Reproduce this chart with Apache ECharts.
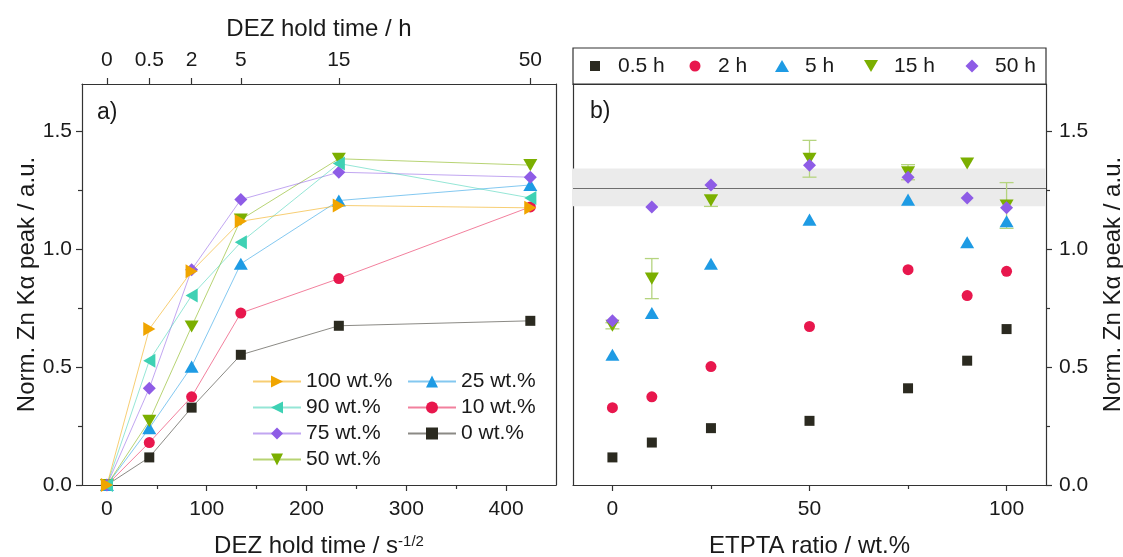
<!DOCTYPE html>
<html><head><meta charset="utf-8">
<script src="https://cdn.jsdelivr.net/npm/echarts@6/dist/echarts.min.js"></script>
<style>html,body{margin:0;padding:0;background:#fff}#c{width:1123px;height:557px}</style>
</head><body><div id="c"></div>
<script>
// ---- data ----
const holdHours = [0, 0.5, 2, 5, 15, 50];           // DEZ hold time / h
const ratios = [0, 10, 25, 50, 75, 90, 100];         // ETPTA ratio / wt.%
// Norm. Zn Kα peak per ETPTA ratio, at each hold time (holdHours)
const zn0   = [0, 0.117, 0.328, 0.552, 0.675, 0.696];
const zn10  = [0, 0.180, 0.374, 0.729, 0.875, 1.179];
const zn25  = [0, 0.241, 0.502, 0.938, 1.206, 1.272];
const zn50  = [0, 0.272, 0.672, 1.125, 1.383, 1.356];
const zn75  = [0, 0.410, 0.913, 1.210, 1.326, 1.305];
const zn90  = [0, 0.527, 0.803, 1.029, 1.363, 1.217];
const zn100 = [0, 0.661, 0.906, 1.118, 1.185, 1.175];
// error (half width) of the 15 h series in panel b, per ratio
const err15h = [0.013, 0.085, 0.025, 0.078, 0.032, null, 0.097];
// reference band in panel b
const bandLow = 1.182, bandMid = 1.261, bandHigh = 1.342;
// tick values
const xTicksA = [0, 100, 200, 300, 400];
const xMinorA = [50, 150, 250, 350];
const xTicksB = [0, 50, 100];
const xMinorB = [25, 75];
const yTicks = [0, 0.5, 1.0, 1.5];
const yMinor = [0.25, 0.75, 1.25];

// ---- styling ----
const FONT = 'Liberation Sans, Arial, sans-serif';
const AX = '#333333';
const TXT = '#1a1a1a';
const SYM = {
  square: 'rect', circle: 'circle', diamond: 'diamond',
  up: 'path://M5,0L10,8.66L0,8.66Z',
  down: 'path://M0,0L10,0L5,8.66Z',
  left: 'path://M0,5L8.66,0L8.66,10Z',
  right: 'path://M0,0L8.66,5L0,10Z'
};
const SIZE = { square: 10, circle: 11, diamond: 13, up: 14, down: 14, left: 14, right: 14 };
const COL = {
  black: '#2b2a20', red: '#e8174d', blue: '#1e9be4', green: '#7baf00',
  purple: '#8e5ce6', teal: '#3ed1b4', orange: '#f0a500'
};

const ratioDefs = [
  { name: '0 wt.%',   vals: zn0,   color: COL.black,  sym: 'square' },
  { name: '10 wt.%',  vals: zn10,  color: COL.red,    sym: 'circle' },
  { name: '25 wt.%',  vals: zn25,  color: COL.blue,   sym: 'up' },
  { name: '50 wt.%',  vals: zn50,  color: COL.green,  sym: 'down' },
  { name: '75 wt.%',  vals: zn75,  color: COL.purple, sym: 'diamond' },
  { name: '90 wt.%',  vals: zn90,  color: COL.teal,   sym: 'left' },
  { name: '100 wt.%', vals: zn100, color: COL.orange, sym: 'right' }
];
const timeDefs = [
  { k: 1, color: COL.black,  sym: 'square' },
  { k: 2, color: COL.red,    sym: 'circle' },
  { k: 3, color: COL.blue,   sym: 'up' },
  { k: 4, color: COL.green,  sym: 'down' },
  { k: 5, color: COL.purple, sym: 'diamond' }
];
const sqrtSec = holdHours.map(h => Math.sqrt(h * 3600));

function axisBase(extra) {
  return Object.assign({
    type: 'value',
    axisLine: { show: true, onZero: false, lineStyle: { color: AX, width: 1.2 } },
    axisTick: { show: false },
    axisLabel: { show: false },
    splitLine: { show: false }
  }, extra);
}
function tickAxis(ticks, labels, len, labelOpt, extra) {
  return axisBase(Object.assign({
    axisTick: { show: true, customValues: ticks, length: len, inside: false, lineStyle: { color: AX, width: 1.2 } },
    axisLabel: labels ? Object.assign({ show: true, customValues: ticks, fontSize: 21, color: TXT, fontFamily: FONT }, labelOpt) : { show: false }
  }, extra));
}
function minorAxis(ticks, extra) {
  return axisBase(Object.assign({
    axisLine: { show: false, onZero: false },
    axisTick: { show: true, customValues: ticks, length: 4, inside: false, lineStyle: { color: AX, width: 1.2 } }
  }, extra));
}
const yName = 'Norm. Zn Kα peak / a.u.';
const nameStyle = { fontSize: 24, color: TXT, fontFamily: FONT };

const series = [];
// panel a lines
ratioDefs.forEach((d, i) => {
  series.push({
    type: 'line', name: d.name, xAxisIndex: 0, yAxisIndex: 0,
    data: d.vals.map((v, j) => [sqrtSec[j], v]),
    symbol: SYM[d.sym], symbolSize: SIZE[d.sym], symbolKeepAspect: true, showAllSymbol: true,
    itemStyle: { color: d.color, opacity: 1 },
    lineStyle: { color: d.color, width: 1, opacity: 0.55 },
    z: 3 + i
  });
});
// panel b scatter
const byRatio = ratioDefs.map(d => d.vals);
timeDefs.forEach((t, i) => {
  const s = {
    type: 'scatter', name: holdHours[t.k] + ' h', xAxisIndex: 3, yAxisIndex: 3,
    data: ratios.map((r, j) => [r, byRatio[j][t.k]]),
    symbol: SYM[t.sym], symbolSize: SIZE[t.sym], symbolKeepAspect: true,
    itemStyle: { color: t.color, opacity: 1 }, z: 4 + i
  };
  if (i === 0) {
    s.markArea = { silent: true, z: 1, itemStyle: { color: '#ebebeb' },
      data: [[{ yAxis: bandLow }, { yAxis: bandHigh }]] };
    s.markLine = { silent: true, z: 1, symbol: ['none', 'none'], label: { show: false },
      lineStyle: { color: '#6e6e6e', width: 1, type: 'solid' }, data: [{ yAxis: bandMid }] };
  }
  series.push(s);
});
// error bars for 15 h
const errData = ratios.map((r, j) => err15h[j] == null ? null :
  [r, byRatio[j][4] - err15h[j], byRatio[j][4] + err15h[j]]).filter(Boolean);
series.push({
  type: 'custom', xAxisIndex: 3, yAxisIndex: 3, z: 3, silent: true,
  data: errData,
  encode: { x: 0, y: [1, 2] },
  renderItem: function (params, api) {
    const x = api.value(0);
    const p1 = api.coord([x, api.value(1)]);
    const p2 = api.coord([x, api.value(2)]);
    const hw = 7;
    const st = { stroke: '#b5d47f', lineWidth: 1.3 };
    return { type: 'group', children: [
      { type: 'line', shape: { x1: p1[0], y1: p1[1], x2: p2[0], y2: p2[1] }, style: st },
      { type: 'line', shape: { x1: p1[0] - hw, y1: p1[1], x2: p1[0] + hw, y2: p1[1] }, style: st },
      { type: 'line', shape: { x1: p2[0] - hw, y1: p2[1], x2: p2[0] + hw, y2: p2[1] }, style: st }
    ] };
  }
});

// legends
const legends = [];
const legA1 = ['100 wt.%', '90 wt.%', '75 wt.%', '50 wt.%'];
const legA2 = ['25 wt.%', '10 wt.%', '0 wt.%'];
[[legA1, 252], [legA2, 407]].forEach(([names, left]) => {
  legends.push({
    data: names, orient: 'vertical', left: left, top: 371, padding: 0,
    itemWidth: 48, itemHeight: 15, itemGap: 5,
    textStyle: { fontSize: 21, color: TXT, fontFamily: FONT, lineHeight: 21 }
  });
});
const legBCenters = [595, 695, 782, 871, 972];
timeDefs.forEach((t, i) => {
  const sz = SIZE[t.sym];
  legends.push({
    data: [holdHours[t.k] + ' h'], left: legBCenters[i] - sz / 2, top: 66 - 10.5, padding: 0,
    itemWidth: sz, itemHeight: sz,
    itemStyle: { opacity: 1 },
    textStyle: { fontSize: 21, color: TXT, fontFamily: FONT, lineHeight: 21, padding: [0, 0, 0, 23 - sz / 2 - 5] }
  });
});

const option = {
  animation: false,
  backgroundColor: '#fff',
  textStyle: { fontFamily: FONT },
  title: [
    { text: 'a)', left: 97, top: 101, padding: 0, textStyle: { fontSize: 23, fontWeight: 'normal', color: TXT, fontFamily: FONT } },
    { text: 'b)', left: 590, top: 100, padding: 0, textStyle: { fontSize: 23, fontWeight: 'normal', color: TXT, fontFamily: FONT } }
  ],
  graphic: [
    { type: 'rect', shape: { x: 573, y: 48, width: 473, height: 36 }, style: { fill: 'none', stroke: AX, lineWidth: 1.2 }, z: 10, silent: true }
  ],
  legend: legends,
  grid: [
    { left: 82, right: 567, top: 84, bottom: 72, containLabel: false, outerBoundsMode: 'none' },
    { left: 573, right: 77, top: 84, bottom: 72, containLabel: false, outerBoundsMode: 'none' }
  ],
  xAxis: [
    // 0: panel a bottom
    tickAxis(xTicksA, true, 6, { margin: 14 }, {
      gridIndex: 0, position: 'bottom', min: -25, max: 450,
      name: '{n|DEZ hold time / s}{s|-1/2}', nameLocation: 'middle', nameGap: 49,
      nameTextStyle: Object.assign({}, nameStyle, { rich: { n: { fontSize: 24, color: TXT, fontFamily: FONT }, s: { fontSize: 15, color: TXT, fontFamily: FONT, verticalAlign: 'top' } } })
    }),
    // 1: panel a bottom minor
    minorAxis(xMinorA, { gridIndex: 0, position: 'bottom', min: -25, max: 450 }),
    // 2: panel a top (hours)
    tickAxis(sqrtSec, true, 6, {
      margin: 13,
      formatter: function (v) {
        let best = 0;
        sqrtSec.forEach((s, i) => { if (Math.abs(s - v) < Math.abs(sqrtSec[best] - v)) best = i; });
        return String(holdHours[best]);
      }
    }, {
      gridIndex: 0, position: 'top', min: -25, max: 450,
      name: 'DEZ hold time / h', nameLocation: 'middle', nameGap: 43, nameTextStyle: nameStyle
    }),
    // 3: panel b bottom
    tickAxis(xTicksB, true, 6, { margin: 14 }, {
      gridIndex: 1, position: 'bottom', min: -10, max: 110,
      name: 'ETPTA ratio / wt.%', nameLocation: 'middle', nameGap: 49, nameTextStyle: nameStyle
    }),
    // 4: panel b bottom minor
    minorAxis(xMinorB, { gridIndex: 1, position: 'bottom', min: -10, max: 110 }),
    // 5: panel b top line
    axisBase({ gridIndex: 1, position: 'top', min: -10, max: 110 })
  ],
  yAxis: [
    // 0: panel a left
    tickAxis(yTicks, true, 6, { margin: 10, formatter: v => v.toFixed(1) }, {
      gridIndex: 0, position: 'left', min: 0, max: 1.7,
      name: yName, nameLocation: 'middle', nameGap: 42, nameTextStyle: nameStyle
    }),
    // 1: panel a left minor
    minorAxis(yMinor, { gridIndex: 0, position: 'left', min: 0, max: 1.7 }),
    // 2: panel a right line
    axisBase({ gridIndex: 0, position: 'right', min: 0, max: 1.7 }),
    // 3: panel b right
    tickAxis(yTicks, true, 6, { margin: 13, formatter: v => v.toFixed(1) }, {
      gridIndex: 1, position: 'right', min: 0, max: 1.7,
      name: yName, nameLocation: 'middle', nameGap: 55, nameTextStyle: nameStyle
    }),
    // 4: panel b right minor
    minorAxis(yMinor, { gridIndex: 1, position: 'right', min: 0, max: 1.7 }),
    // 5: panel b left line
    axisBase({ gridIndex: 1, position: 'left', min: 0, max: 1.7 })
  ],
  series: series
};
const chart = echarts.init(document.getElementById('c'), null, { renderer: 'canvas' });
chart.setOption(option);
</script>
</body></html>
